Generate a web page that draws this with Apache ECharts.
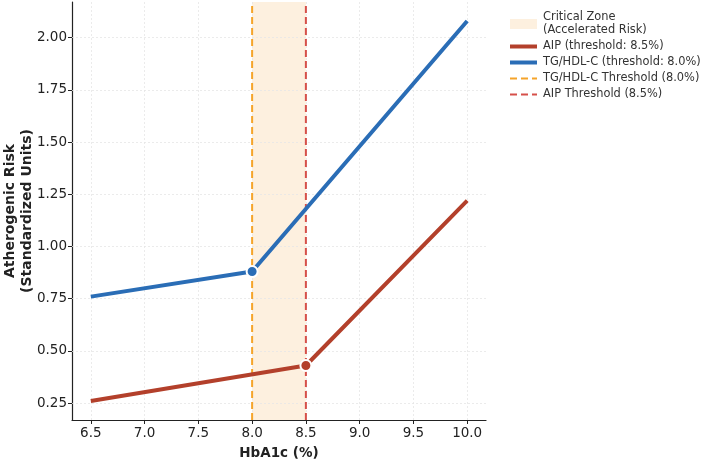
<!DOCTYPE html>
<html>
<head>
<meta charset="utf-8">
<script src="https://cdn.jsdelivr.net/npm/echarts@6/dist/echarts.min.js"></script>
<style>
  html, body { margin: 0; padding: 0; background: #fff; }
  #chart { width: 702px; height: 459px; }
</style>
</head>
<body>
<div id="chart"></div>
<script>
var chartDom = document.getElementById('chart');
var myChart = echarts.init(chartDom);

// data
var tgX = [6.5, 8.0, 10.0];
var tgY = [0.76, 0.88, 2.08];
var aipX = [6.5, 8.5, 10.0];
var aipY = [0.26, 0.43, 1.22];
var xTicks = [6.5, 7.0, 7.5, 8.0, 8.5, 9.0, 9.5, 10.0];
var yTicks = [0.25, 0.5, 0.75, 1.0, 1.25, 1.5, 1.75, 2.0];
var tgThreshold = 8.0;
var aipThreshold = 8.5;

var xMin = 6.325, xMax = 10.175;
var yMin = 0.169, yMax = 2.171;
var font = 'DejaVu Sans';

function pairs(xs, ys, markAt) {
  return xs.map(function (x, i) {
    if (x === markAt) {
      return {
        value: [x, ys[i]],
        symbol: 'circle',
        symbolSize: 11,
        itemStyle: { borderColor: '#fff', borderWidth: 2 }
      };
    }
    return { value: [x, ys[i]], symbol: 'none' };
  });
}

var zoneName = 'Critical Zone\n(Accelerated Risk)';
var aipName = 'AIP (threshold: 8.5%)';
var tgName = 'TG/HDL-C (threshold: 8.0%)';
var tgLineName = 'TG/HDL-C Threshold (8.0%)';
var aipLineName = 'AIP Threshold (8.5%)';

var option = {
  animation: false,
  textStyle: { fontFamily: font },
  grid: { left: 72, right: 216, top: 2, bottom: 39, containLabel: false, outerBoundsMode: 'none' },
  legend: {
    orient: 'vertical',
    left: 508,
    top: 11,
    padding: 0,
    itemWidth: 27,
    itemHeight: 10,
    itemGap: 3,
    itemStyle: { opacity: 0 },
    textStyle: { fontFamily: font, fontSize: 11.4, color: '#333', lineHeight: 13, padding: [0, 0, 0, 1] },
    data: [
      { name: zoneName, icon: 'rect', itemStyle: { color: '#fdf0df', opacity: 1 } },
      { name: aipName, lineStyle: { width: 4 } },
      { name: tgName, lineStyle: { width: 4 } },
      { name: tgLineName, lineStyle: { width: 2 } },
      { name: aipLineName, lineStyle: { width: 2 } }
    ]
  },
  xAxis: {
    type: 'value',
    min: xMin,
    max: xMax,
    name: 'HbA1c (%)',
    nameLocation: 'middle',
    nameGap: 26,
    nameTextStyle: { fontFamily: font, fontWeight: 'bold', fontSize: 13.5, color: '#222' },
    axisLine: { onZero: false, lineStyle: { color: '#222', width: 1.2 } },
    axisTick: { show: true, length: 4, customValues: xTicks, lineStyle: { color: '#222' } },
    axisLabel: { customValues: xTicks, fontSize: 13.5, color: '#222', margin: 6,
      formatter: function (v) { return v.toFixed(1); } },
    splitLine: { show: false }
  },
  yAxis: {
    type: 'value',
    min: yMin,
    max: yMax,
    name: 'Atherogenic Risk\n(Standardized Units)',
    nameLocation: 'middle',
    nameGap: 36,
    nameMoveOverlap: false,
    nameRotate: 90,
    nameTextStyle: { fontFamily: font, fontWeight: 'bold', fontSize: 14, color: '#222', lineHeight: 17 },
    axisLine: { show: true, onZero: false, lineStyle: { color: '#222', width: 1.2 } },
    axisTick: { show: true, length: 4, customValues: yTicks, lineStyle: { color: '#222' } },
    axisLabel: { customValues: yTicks, fontSize: 13.5, color: '#222', margin: 5,
      formatter: function (v) { return v.toFixed(2); } },
    splitLine: { show: false }
  },
  series: [
    {
      name: zoneName,
      type: 'line',
      data: [],
      z: 1,
      markArea: {
        silent: true,
        z: 1,
        itemStyle: { color: '#fdf0df' },
        data: [[{ xAxis: tgThreshold }, { xAxis: aipThreshold }]]
      },
      markLine: {
        silent: true,
        z: 2,
        symbol: 'none',
        label: { show: false },
        lineStyle: { color: '#e6e6e6', type: [2, 2], width: 0.8 },
        data: xTicks.map(function (v) { return { xAxis: v }; })
          .concat(yTicks.map(function (v) { return { yAxis: v }; }))
      }
    },
    {
      name: tgLineName,
      type: 'line',
      symbol: 'none',
      z: 3,
      lineStyle: { color: '#f5a42a', width: 2, type: [7, 4] },
      itemStyle: { color: '#f5a42a' },
      data: [[tgThreshold, yMin], [tgThreshold, yMax]]
    },
    {
      name: aipLineName,
      type: 'line',
      symbol: 'none',
      z: 3,
      lineStyle: { color: '#d6504a', width: 2, type: [7, 4] },
      itemStyle: { color: '#d6504a' },
      data: [[aipThreshold, yMin], [aipThreshold, yMax]]
    },
    {
      name: aipName,
      type: 'line',
      symbol: 'none',
      z: 4,
      lineStyle: { color: '#b3402b', width: 4 },
      itemStyle: { color: '#b3402b' },
      data: pairs(aipX, aipY, aipThreshold)
    },
    {
      name: tgName,
      type: 'line',
      symbol: 'none',
      z: 4,
      lineStyle: { color: '#2a6db6', width: 4 },
      itemStyle: { color: '#2a6db6' },
      data: pairs(tgX, tgY, tgThreshold)
    }
  ]
};
option && myChart.setOption(option);

window.addEventListener('resize', function () {
  myChart.resize();
});
</script>
</body>
</html>
